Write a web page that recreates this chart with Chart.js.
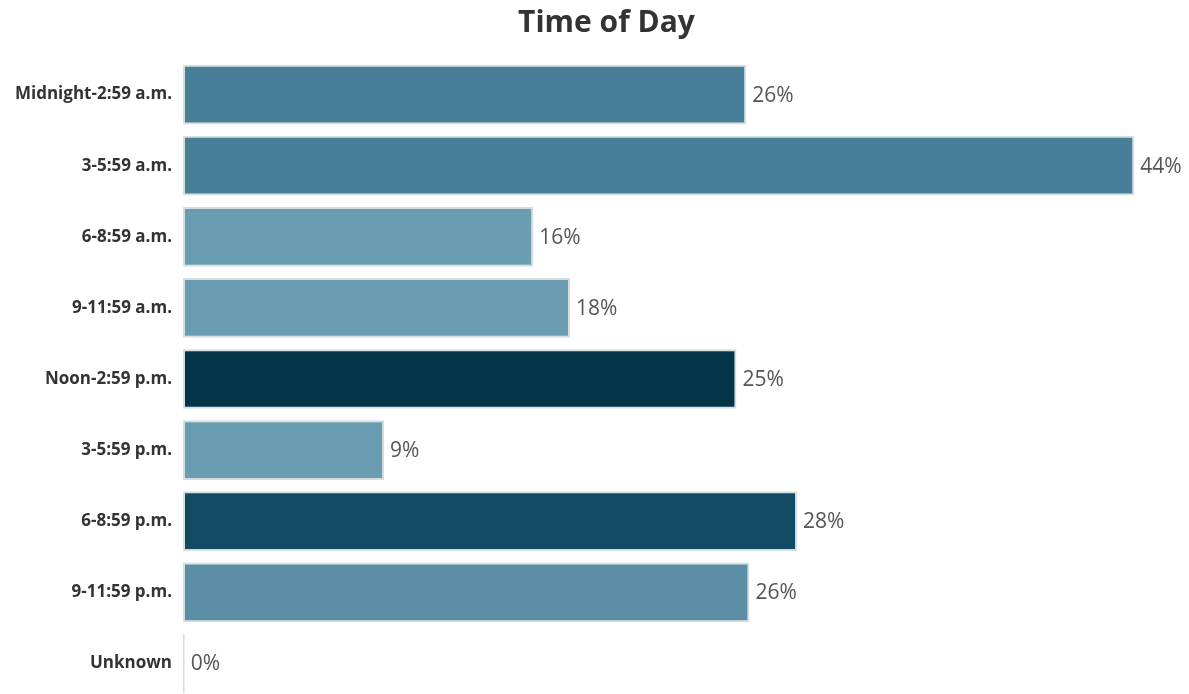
<!DOCTYPE html>
<html>
<head>
<meta charset="utf-8">
<title>Time of Day</title>
<script src="https://cdn.jsdelivr.net/npm/chart.js@4/dist/chart.umd.min.js"></script>
<style>
    html, body { margin: 0; padding: 0; background: #fff; overflow: hidden; }
    canvas { display: block; }
</style>
</head>
<body>
<canvas id="timeChart" width="1189" height="699"></canvas>
<script>
// Chart data
const timeSlots = ['Midnight-2:59 a.m.', '3-5:59 a.m.', '6-8:59 a.m.', '9-11:59 a.m.',
    'Noon-2:59 p.m.', '3-5:59 p.m.', '6-8:59 p.m.', '9-11:59 p.m.', 'Unknown'];
const shares = [26.05, 44.0, 16.2, 17.9, 25.6, 9.3, 28.4, 26.2, 0.08];
const shareLabels = ['26%', '44%', '16%', '18%', '25%', '9%', '28%', '26%', '0%'];
const barColors = ['#477f98', '#477f98', '#6b9db2', '#6b9db2', '#033448',
    '#6b9db2', '#134a63', '#5b8ea5', '#dcdfe1'];

// Draws the percent text just past the end of each bar
const valueLabels = {
    id: 'valueLabels',
    afterDatasetsDraw(chart) {
        const ctx = chart.ctx;
        const meta = chart.getDatasetMeta(0);
        ctx.save();
        ctx.font = '21px "Open Sans", sans-serif';
        ctx.fillStyle = '#555555';
        ctx.textAlign = 'left';
        ctx.textBaseline = 'middle';
        meta.data.forEach((bar, i) => {
            ctx.fillText(shareLabels[i], bar.x + 6, bar.y + 1);
        });
        ctx.restore();
    }
};

document.addEventListener('DOMContentLoaded', function() {
    const canvas = document.getElementById('timeChart');

    new Chart(canvas, {
        type: 'bar',
        data: {
            labels: timeSlots,
            datasets: [{
                data: shares,
                backgroundColor: barColors,
                borderColor: '#d3dde2',
                borderWidth: 2,
                borderSkipped: false,
                barPercentage: 0.84,
                categoryPercentage: 1
            }]
        },
        options: {
            indexAxis: 'y',
            responsive: false,
            animation: false,
            layout: {
                // negative right padding just recentres the title box
                padding: { left: 8, right: -16, top: 0, bottom: 0 }
            },
            plugins: {
                legend: { display: false },
                tooltip: { enabled: false },
                title: {
                    display: true,
                    text: 'Time of Day',
                    color: '#333333',
                    font: { family: '"Open Sans", sans-serif', size: 30, weight: 'bold', lineHeight: 1.2 },
                    padding: { top: 5, bottom: 18 }
                }
            },
            scales: {
                x: {
                    display: false,
                    min: 0,
                    max: 46.53
                },
                y: {
                    grid: { display: false, drawTicks: false },
                    border: { display: false },
                    ticks: {
                        color: '#333333',
                        padding: 11,
                        font: { family: '"Open Sans", sans-serif', size: 17, weight: 'bold' }
                    },
                    afterFit(scale) {
                        // fixed axis width, no extra room above/below the bands
                        scale.width = 175;
                        scale.paddingTop = 0;
                        scale.paddingBottom = 0;
                    }
                }
            }
        },
        plugins: [valueLabels]
    });
});
</script>
</body>
</html>
